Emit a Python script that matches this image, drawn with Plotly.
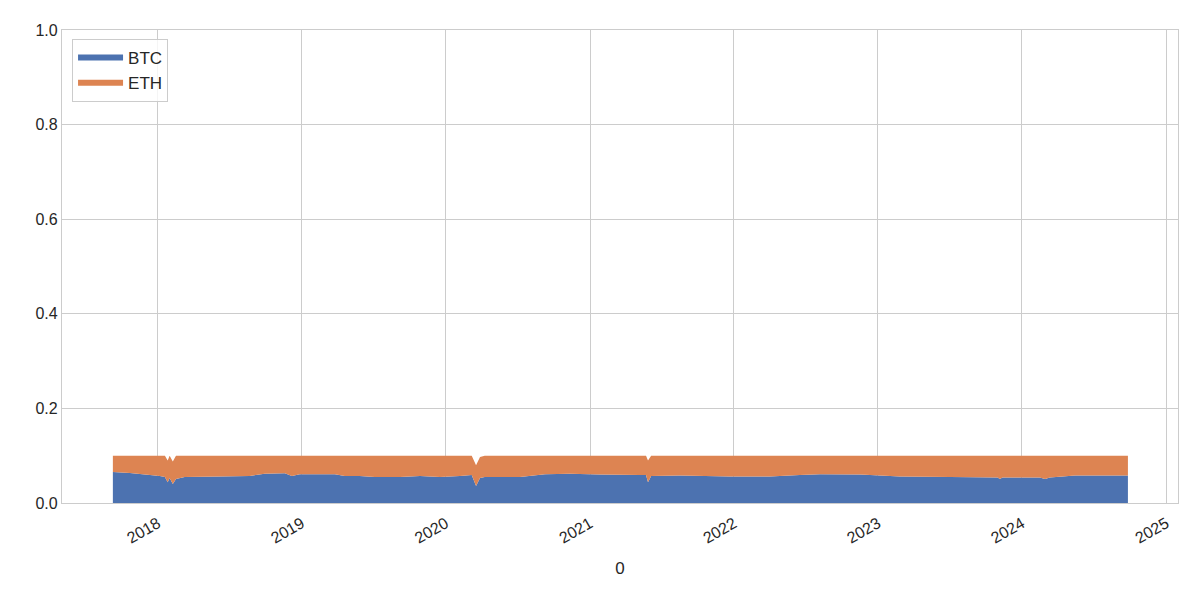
import plotly.graph_objects as go

dates = [
    "2017-09-09", "2017-10-22", "2017-12-12", "2018-01-06", "2018-01-19",
    "2018-01-26", "2018-01-31", "2018-02-08", "2018-02-16", "2018-03-10",
    "2018-06-07", "2018-08-22", "2018-09-29", "2018-11-19", "2018-12-07",
    "2018-12-27", "2019-03-26", "2019-04-20", "2019-05-28", "2019-07-05",
    "2019-09-07", "2019-10-28", "2019-12-17", "2020-02-06", "2020-03-07",
    "2020-03-18", "2020-03-28", "2020-04-09", "2020-07-07", "2020-09-09",
    "2020-11-11", "2021-01-26", "2021-05-08", "2021-05-23", "2021-05-28",
    "2021-06-05", "2021-08-17", "2021-12-22", "2022-04-02", "2022-06-17",
    "2022-08-07", "2022-11-17", "2023-02-26", "2023-07-03", "2023-11-01",
    "2023-11-06", "2023-11-13", "2024-02-15", "2024-02-29", "2024-03-12",
    "2024-05-15", "2024-09-26",
]
btc = [
    0.0655, 0.0634, 0.059, 0.057, 0.055,
    0.044, 0.053, 0.040, 0.051, 0.055,
    0.056, 0.057, 0.062, 0.063, 0.057,
    0.061, 0.061, 0.057, 0.057, 0.055,
    0.055, 0.057, 0.055, 0.057, 0.059,
    0.036, 0.053, 0.055, 0.055, 0.061,
    0.062, 0.060, 0.059, 0.059, 0.044,
    0.057, 0.058, 0.056, 0.056, 0.059,
    0.061, 0.060, 0.056, 0.055, 0.054,
    0.051, 0.054, 0.054, 0.051, 0.054,
    0.058, 0.058,
]
total = [
    0.1, 0.1, 0.1, 0.1, 0.1,
    0.09, 0.1, 0.088, 0.1, 0.1,
    0.1, 0.1, 0.1, 0.1, 0.1,
    0.1, 0.1, 0.1, 0.1, 0.1,
    0.1, 0.1, 0.1, 0.1, 0.1,
    0.08, 0.097, 0.1, 0.1, 0.1,
    0.1, 0.1, 0.1, 0.1, 0.09,
    0.1, 0.1, 0.1, 0.1, 0.1,
    0.1, 0.1, 0.1, 0.1, 0.1,
    0.1, 0.1, 0.1, 0.1, 0.1,
    0.1, 0.1,
]
eth = [t - b for t, b in zip(total, btc)]

BLUE = "#4C72B0"
ORANGE = "#DD8452"
GRID = "#cccccc"
TEXT = "#262626"
FONT = "Liberation Sans, Arial, sans-serif"

fig = go.Figure()
fig.add_trace(go.Scatter(x=dates, y=btc, name="BTC", stackgroup="one",
                         mode="none", fillcolor=BLUE))
fig.add_trace(go.Scatter(x=dates, y=eth, name="ETH", stackgroup="one",
                         mode="none", fillcolor=ORANGE))

fig.update_layout(
    width=1200, height=600,
    margin=dict(l=54, r=30, t=22, b=105),
    paper_bgcolor="white", plot_bgcolor="white",
    font=dict(family=FONT, size=16, color=TEXT),
    showlegend=True,
    legend=dict(x=0.009, y=0.981, xanchor="left", yanchor="top",
                traceorder="normal", itemwidth=45,
                bordercolor=GRID, borderwidth=1, bgcolor="rgba(255,255,255,0.8)",
                font=dict(size=17, color=TEXT)),
    xaxis=dict(
        type="date", range=["2017-05-03", "2025-01-31"],
        tick0="2018-01-01", dtick="M12", tickformat="%Y",
        tickangle=-30, showgrid=True, gridcolor=GRID, gridwidth=1,
        showline=True, linecolor=GRID, linewidth=1.25, mirror=True,
        ticks="outside", ticklen=4, tickcolor="rgba(0,0,0,0)", zeroline=False,
        tickfont=dict(size=16, color=TEXT),
        title=dict(text="0", font=dict(size=17, color=TEXT), standoff=16),
    ),
    yaxis=dict(
        range=[0, 1], dtick=0.2, tickformat=".1f",
        showgrid=True, gridcolor=GRID, gridwidth=1,
        showline=True, linecolor=GRID, linewidth=1.25, mirror=True,
        ticks="", zeroline=False,
        tickfont=dict(size=16, color=TEXT),
    ),
)

fig.write_html("out.html")
